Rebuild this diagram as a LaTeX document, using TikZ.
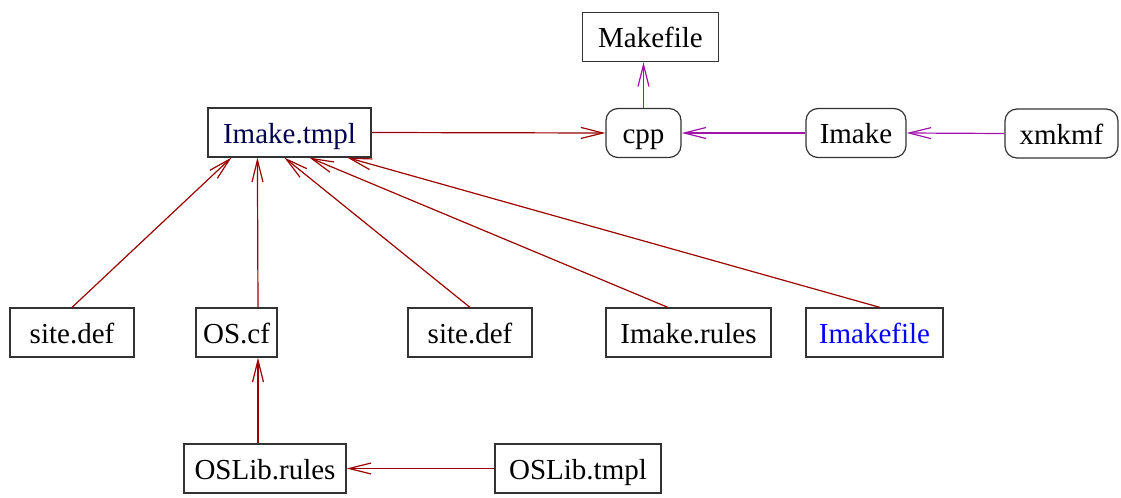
\documentclass[tikz,border=0pt]{standalone}
\usepackage{fontspec}
\setmainfont{Liberation Serif}
\usetikzlibrary{positioning}
\usetikzlibrary{arrows.meta}

\definecolor{linkred}{RGB}{155,0,0}
\definecolor{linkpurple}{RGB}{160,20,170}
\definecolor{tmplnavy}{RGB}{0,0,80}

\tikzset{
	file/.style = {draw = black!80, line width = 0.6pt, minimum height = 24.5pt, inner sep = 0pt, text height = 13.5pt, text depth = 3pt, font = \fontsize{14.5}{17}\selectfont},
	prog/.style = {file, rounded corners = 6pt},
	dep/.style = {linkred, line width = 0.6pt, -{Straight Barb[length = 11pt, width = 5.5pt]}},
	run/.style = {dep, linkpurple}
}

\begin{document}
\begin{tikzpicture}[x = 0.5pt, y = -0.5pt]
	\useasboundingbox (0, 0) rectangle (1121, 498);
	% top row: templates and the tools
	\node [file, minimum width = 68pt] (makefile) at (650.5, 37) {Makefile};
	\node [file, minimum width = 81.5pt, text = tmplnavy] (tmpl) at (289.5, 132.5) {Imake.tmpl};
	\node [prog, minimum width = 37.5pt] (cpp) at (643.5, 133) {cpp};
	\node [prog, minimum width = 50pt] (imake) at (856, 133) {Imake};
	\node [prog, minimum width = 56.5pt] (xmkmf) at (1061.5, 133.5) {xmkmf};
	% included files
	\node [file, minimum width = 62pt] (sitea) at (72, 332.5) {site.def};
	\node [file, minimum width = 40.5pt] (oscf) at (236.5, 332.5) {OS.cf};
	\node [file, minimum width = 62pt] (siteb) at (470, 332.5) {site.def};
	\node [file, minimum width = 82.5pt] (rules) at (688.5, 332.5) {Imake.rules};
	\node [file, minimum width = 68.5pt, text = blue] (imakefile) at (874.5, 332.5) {Imakefile};
	\node [file, minimum width = 81pt] (oslibrules) at (265, 468.5) {OSLib.rules};
	\node [file, minimum width = 83pt] (oslibtmpl) at (578, 468.5) {OSLib.tmpl};

	\draw [dep] (sitea.north) -- ([xshift = 12pt] tmpl.south west);
	\draw [dep] ([xshift = 10.75pt] oscf.north) -- ([xshift = 25pt] tmpl.south west);
	\draw [dep] (siteb.north) -- ([xshift = 38.5pt] tmpl.south west);
	\draw [dep] ([xshift = -10.25pt] rules.north) -- ([xshift = 51pt] tmpl.south west);
	\draw [dep] ([xshift = 2.75pt] imakefile.north) -- ([xshift = 70pt] tmpl.south west);
	\draw [dep] ([xshift = -3.5pt] oslibrules.north) -- ([xshift = 10.75pt] oscf.south);
	\draw [dep] (oslibtmpl.west) -- (oslibrules.east);
	\draw [dep] (tmpl.east) -- (cpp.west);

	\draw [run] (cpp.north) -- (cpp.north |- makefile.south);
	\draw [run] (imake.west) -- (cpp.east);
	\draw [run] (xmkmf.west) -- (imake.east);
\end{tikzpicture}
\end{document}
